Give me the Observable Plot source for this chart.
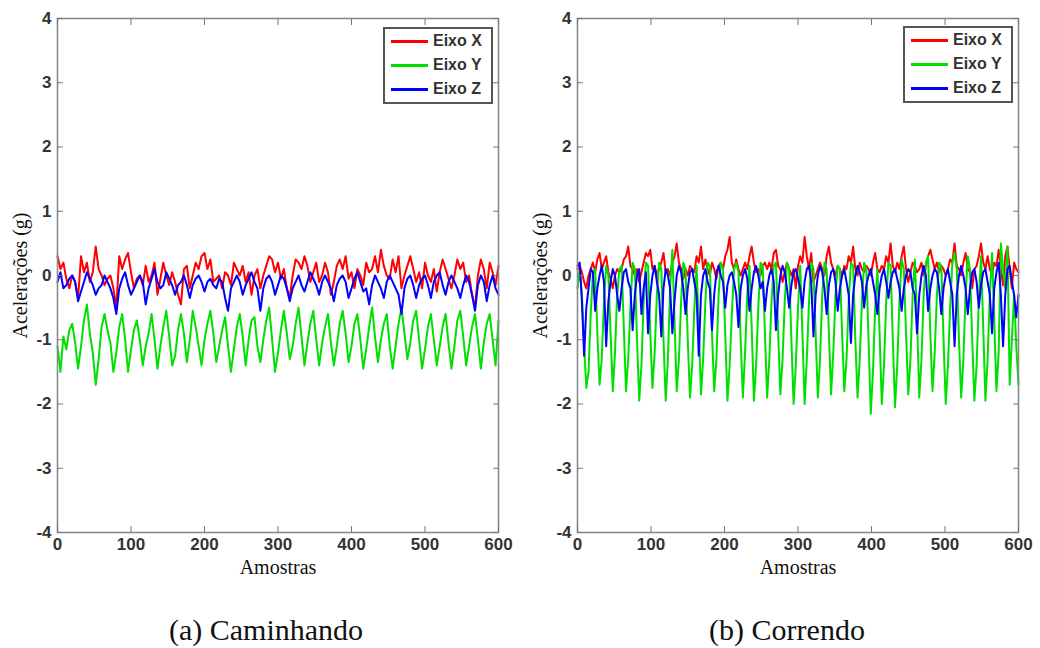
<!DOCTYPE html>
<html><head><meta charset="utf-8">
<script src="https://cdn.jsdelivr.net/npm/d3@7"></script>
<script src="https://cdn.jsdelivr.net/npm/@observablehq/plot@0.6"></script>
<style>
body{margin:0;background:#fff;}
#wrap{position:relative;width:1040px;height:648px;overflow:hidden;background:#fff;}
.panel{position:absolute;top:0;width:520px;height:590px;}
.legend{position:absolute;left:383px;width:110px;height:77px;border:2px solid #555;background:#fff;box-sizing:border-box;font:bold 16px "Liberation Sans",Arial,sans-serif;color:#333;}
.legend .row{position:absolute;left:0;height:20px;display:flex;align-items:center;white-space:nowrap;}
.legend .sw{width:37px;height:3px;margin-left:6px;margin-right:5px;}
.caption{position:absolute;top:613px;width:520px;text-align:center;font:30px "Liberation Serif","Times New Roman",serif;color:#111;}
</style></head>
<body><div id="wrap"></div>
<script>
// ---- data ----
const amostraTicks = [0, 100, 200, 300, 400, 500, 600];
const aceleracaoTicks = [-4, -3, -2, -1, 0, 1, 2, 3, 4];
const eixos = ["Eixo X", "Eixo Y", "Eixo Z"];
const cores = ["#ff0000", "#00e000", "#0000ff"];
const legendas = ["(a) Caminhando", "(b) Correndo"];

// (a) Caminhando: one value every 4 samples
const passoCaminhando = 4;
const caminhandoX = [
 0.3,0.1,0.2,-0.05,-0.2,0,-0.1,-0.35,0.3,0.05,
 0.2,-0.1,0.05,0.45,0.1,0,-0.15,-0.05,0,-0.2,
 -0.5,0.3,0.1,0.25,0.35,0.05,-0.2,-0.05,0,-0.15,
 0.15,-0.1,0,0.2,-0.3,-0.05,0.2,0,-0.15,0.05,
 -0.1,-0.3,-0.45,0.1,0.15,-0.2,0,0.2,0.1,0.3,
 0.35,0.1,0.25,-0.1,-0.05,0,-0.2,0.05,0,-0.15,
 0.2,0.1,0,0.15,-0.1,0.05,-0.3,0,0.1,-0.2,
 0,0.15,0.3,0.25,0.05,0.2,-0.05,0.1,-0.2,-0.35,
 0,0.25,0.2,0.1,0.3,0.15,-0.1,0.05,0.2,-0.1,
 0,0.2,0.05,-0.3,-0.1,0.15,0.25,0.1,0.3,-0.05,
 0.05,-0.2,0.1,0,-0.15,0.2,0.05,0.1,0.3,0.05,
 0.4,0.15,0,-0.05,0.25,0.05,0.3,-0.2,0,0.15,
 0.3,0.1,-0.1,0.05,-0.2,0.2,0,-0.1,0.1,-0.25,
 0.05,0.25,0.1,-0.05,-0.2,0,0.25,0.1,0.2,-0.1,
 0,-0.3,-0.5,0,0.25,0.1,-0.2,0.2,0.05,-0.15,
 0.15];
const caminhandoY = [
 -1.1,-1.5,-0.95,-1.15,-0.85,-0.75,-1.05,-1.45,-1.1,-0.7,
 -0.45,-0.9,-1.2,-1.7,-1.3,-0.8,-0.6,-0.85,-1.05,-1.5,
 -1.2,-0.8,-0.6,-1.0,-1.5,-1.15,-0.85,-0.7,-1.0,-1.4,
 -1.1,-0.9,-0.6,-1.0,-1.45,-1.1,-0.8,-0.55,-0.95,-1.4,
 -1.25,-0.85,-0.6,-0.9,-1.35,-1.0,-0.55,-0.8,-1.1,-1.4,
 -1.0,-0.75,-0.55,-0.9,-1.35,-1.1,-0.85,-0.65,-1.1,-1.5,
 -1.15,-0.8,-0.6,-0.95,-1.4,-1.0,-0.7,-0.65,-1.1,-1.35,
 -1.0,-0.7,-0.5,-1.0,-1.5,-1.2,-0.85,-0.55,-0.9,-1.3,
 -1.1,-0.75,-0.5,-0.95,-1.4,-1.05,-0.75,-0.55,-1.0,-1.4,
 -1.05,-0.8,-0.6,-1.05,-1.4,-1.1,-0.75,-0.55,-0.9,-1.35,
 -1.1,-0.75,-0.6,-1.0,-1.45,-1.15,-0.8,-0.5,-0.95,-1.35,
 -1.0,-0.75,-0.6,-1.1,-1.45,-1.1,-0.75,-0.5,-0.9,-1.3,
 -1.05,-0.7,-0.55,-1.0,-1.45,-1.15,-0.8,-0.6,-1.0,-1.4,
 -1.1,-0.8,-0.6,-1.05,-1.45,-1.1,-0.7,-0.55,-0.95,-1.4,
 -1.1,-0.8,-0.6,-1.0,-1.45,-1.05,-0.75,-0.6,-1.0,-1.4,
 -0.7];
const caminhandoZ = [
 -0.1,0.05,-0.2,-0.15,-0.05,0,-0.1,-0.4,-0.25,-0.1,
 0.05,-0.05,-0.15,-0.3,-0.2,-0.15,0,-0.1,-0.2,-0.35,
 -0.6,-0.2,-0.05,0.05,-0.15,-0.3,-0.2,-0.1,0,-0.1,
 -0.45,-0.2,-0.05,0.1,-0.1,-0.2,-0.15,0.05,-0.05,-0.15,
 -0.3,-0.15,-0.1,0,-0.15,-0.35,-0.15,-0.05,0,-0.1,
 -0.25,-0.1,-0.05,-0.15,-0.2,-0.05,-0.1,-0.35,-0.55,-0.2,
 -0.1,0,-0.1,-0.3,-0.15,-0.05,0.05,-0.1,-0.2,-0.55,
 -0.2,-0.05,0,-0.1,-0.3,-0.15,0,-0.05,-0.2,-0.4,
 -0.2,-0.1,0,-0.15,-0.25,-0.1,0.05,-0.05,-0.15,-0.3,
 -0.1,0,-0.1,-0.2,-0.4,-0.15,-0.05,0,-0.1,-0.35,
 -0.2,-0.05,0.05,-0.1,-0.25,-0.2,-0.45,-0.15,0,-0.1,
 -0.2,-0.35,-0.1,0,-0.1,-0.2,-0.3,-0.6,-0.2,-0.05,
 0,-0.15,-0.35,-0.15,-0.05,0,-0.15,-0.35,-0.1,0,
 0.05,-0.15,-0.3,-0.1,0,-0.1,-0.2,-0.35,-0.15,0,
 -0.1,-0.3,-0.55,-0.15,0,-0.1,-0.4,-0.15,0,-0.2,
 -0.3];

// (b) Correndo: one value every 3 samples
const passoCorrendo = 3;
const correndoX = [
 0.1,0.15,0.05,-0.1,-0.2,0,0.1,0.2,0.05,0.25,
 0.35,0.1,0.2,0.3,0.05,-0.05,-0.2,0,0.1,0.05,
 0.1,0.25,0.3,0.45,0.15,0.1,0,0.1,-0.1,0.05,
 0.2,0.35,0.3,0.4,0.1,0.15,0,0.1,0.2,0.35,
 0.05,0.1,0,0.2,0.3,0.5,0.2,0.1,-0.05,0.1,
 0,0.15,0.1,0.05,0.3,0.2,0.45,0.1,0.25,0.1,
 0,0.2,0.1,-0.05,0.15,0.2,0.1,0.3,0.4,0.6,
 0.2,0.1,0.25,0.1,0,0.1,0.2,0.1,0.3,0.45,
 0.2,0.05,0.1,0,0.15,0.2,0.1,0.2,0.1,0.35,
 0.4,0.15,0.1,-0.1,0.05,0.2,0.1,0,0.1,-0.2,
 0.15,0.3,0.2,0.6,0.3,0.1,0.35,-0.1,0,0.1,
 0.2,0.1,0,0.3,0.45,0.2,0.1,0,0.15,0.1,
 0,0.15,0.1,0.3,0.2,0.45,0.1,0,0.2,0.1,
 0.05,0.15,0.1,0,0.2,0.35,0.1,0.05,0.15,0.1,
 0.3,0.2,0.5,0.15,0.05,0.2,0.1,0.3,0.45,0.1,
 -0.1,0.05,0.2,0.15,0.05,0.1,0.2,0,0.15,0.3,
 0.4,0.25,0.1,0.2,0.05,0.15,0.1,0,0.1,0.25,
 0.2,0.5,0.15,0.1,0,0.2,0.35,0.1,0.05,-0.2,
 0.1,0.15,0.3,0.5,0.2,0.1,0.3,0.1,0,0.2,
 0.15,0.4,0.1,-0.15,0.3,0.45,0.1,-0.2,0.2,0.1,
 0.05];
const correndoY = [
 -0.2,0.1,-0.3,-1.1,-1.75,-1.5,-0.6,0.05,0.1,-0.9,
 -1.7,-1.3,-0.4,0.15,0,-0.9,-1.8,-1.2,-0.3,0.1,
 0.15,-0.8,-1.8,-1.3,-0.5,0.2,0.1,-1.0,-1.95,-1.4,
 -0.4,0.2,0.15,-0.9,-1.75,-1.2,-0.3,0.2,0.1,-1.0,
 -1.95,-1.3,-0.2,0.4,-0.7,-1.8,-1.3,-0.4,0.2,0.1,
 -1.0,-1.9,-1.4,-0.5,0.15,-0.8,-1.85,-1.3,-0.4,0.2,
 0.15,-0.9,-1.8,-1.3,-0.3,0.2,0.1,-0.9,-1.95,-1.4,
 -0.6,0.1,0.2,0.05,-1.0,-1.9,-1.2,-0.3,0.15,-0.8,
 -1.95,-1.4,-0.5,0.2,0.15,-0.9,-1.9,-1.3,-0.4,0.15,
 0.2,-0.9,-1.85,-1.3,-0.4,0.2,0.1,-1.0,-2.0,-1.4,
 -0.5,0.15,-0.9,-2.0,-1.3,-0.4,0.2,0.1,-0.9,-1.9,
 -1.3,-0.3,0.2,0.1,-0.9,-1.85,-1.2,-0.3,0.15,0.1,
 -0.9,-1.8,-1.3,-0.4,0.2,0.15,-1.0,-1.9,-1.3,-0.4,
 0.2,0.1,-1.0,-2.15,-1.5,-0.5,0.1,-0.9,-2.0,-1.4,
 -0.4,0.2,0.15,-1.0,-2.05,-1.4,-0.4,0.25,0.1,-0.9,
 -1.85,-1.3,-0.3,0.25,-0.7,-1.9,-1.3,-0.3,0.2,0.3,
 -0.9,-1.8,-1.2,-0.3,0.2,0.15,-1.0,-2.0,-1.4,-0.5,
 0.2,0.35,0.1,-1.0,-1.9,-1.3,-0.3,0.3,0.1,-1.0,
 -1.95,-1.4,-0.4,0.3,-0.8,-1.95,-1.3,-0.3,0.35,-0.7,
 -1.8,-1.2,0.5,0.1,-0.2,0.45,-1.7,-1.0,-0.3,-1.1,
 -1.7];
const correndoZ = [
 0.15,0.2,-0.4,-1.25,-0.5,-0.2,0.1,0.05,-0.55,-0.2,
 0,0.15,-0.1,-1.1,-0.4,-0.1,0.1,0,-0.3,-0.55,
 -0.2,0.05,0.1,-0.1,-0.2,-0.85,-0.3,0,0.1,-0.6,
 -0.2,0.05,-0.9,-0.3,0,0.15,-0.1,-0.3,-0.95,-0.2,
 0.1,0,-0.2,-0.9,-0.4,0,0.15,0.05,-0.2,-0.6,
 -0.2,0.05,0.1,-0.1,-0.3,-1.25,-0.3,0,0.1,-0.1,
 -0.2,-0.85,-0.3,0.05,0.15,0,-0.1,-0.5,-0.15,0,
 0.05,-0.1,-0.3,-0.8,-0.2,0,0.1,-0.05,-0.55,-0.2,
 0.05,0.15,0,-0.2,-0.1,-0.55,-0.2,0,0.1,-0.1,
 -0.85,-0.3,0,0.15,0.05,-0.2,-0.5,-0.15,0.05,0.1,
 -0.05,-0.2,-0.5,-0.1,0.1,0.15,-0.1,-0.95,-0.3,0,
 0.15,0.05,-0.2,-0.6,-0.15,0.05,0.1,-0.1,-0.55,-0.2,
 0,0.1,-0.1,-0.3,-1.05,-0.3,0,0.15,0.05,-0.1,
 -0.5,-0.15,0,0.1,-0.1,-0.3,-0.6,-0.2,0,0.1,
 -0.1,-0.35,-0.1,0.05,0.1,-0.05,-0.2,-0.55,-0.2,0,
 0.1,0.05,-0.2,-0.3,-0.9,-0.3,0,0.15,0,-0.55,
 -0.2,0,0.1,0.05,-0.2,-0.6,-0.2,0,0.1,-0.1,
 -0.3,-1.1,-0.3,0,0.15,0,-0.2,-0.6,-0.2,0.05,
 0.1,-0.1,-0.5,-0.15,0.05,0.1,-0.1,-0.3,-0.9,-0.2,
 0.05,0.2,-0.3,-1.1,-0.3,0.1,0.15,-0.1,-0.3,-0.65,
 -0.3];

// ---- build ----
function linhas(series, passo) {
  const rows = [];
  series.forEach((vals, k) => vals.forEach((v, i) => rows.push({eixo: eixos[k], amostra: i * passo, valor: v})));
  return rows;
}

const tickFont = {fontSize: 17, fontWeight: "bold", fontFamily: "'Liberation Sans', Arial, sans-serif", tickFormat: d => String(d)};
const serif = "'Liberation Serif', 'Times New Roman', serif";

function painel(rows) {
  return Plot.plot({
    width: 520, height: 590,
    marginTop: 18, marginBottom: 58, marginLeft: 57, marginRight: 22,
    style: {background: "white", overflow: "visible"},
    x: {domain: [0, 600]},
    y: {domain: [-4, 4]},
    color: {domain: eixos, range: cores},
    marks: [
      Plot.line(rows, {x: "amostra", y: "valor", z: "eixo", stroke: "eixo", strokeWidth: 2, strokeLinejoin: "round"}),
      Plot.frame({stroke: "#8a8a8a", strokeWidth: 1.6}),
      Plot.axisX({anchor: "bottom", ticks: amostraTicks, tickSize: -6, fill: "none", stroke: "#777", label: null}),
      Plot.axisX({anchor: "top", ticks: amostraTicks, tickSize: -6, fill: "none", stroke: "#777", label: null}),
      Plot.axisY({anchor: "left", ticks: aceleracaoTicks, tickSize: -6, fill: "none", stroke: "#777", label: null}),
      Plot.axisY({anchor: "right", ticks: aceleracaoTicks, tickSize: -6, fill: "none", stroke: "#777", label: null}),
      Plot.axisX({anchor: "bottom", ticks: amostraTicks, tickSize: 0, tickPadding: 5, stroke: "none", fill: "#333", label: null, ...tickFont}),
      Plot.axisY({anchor: "left", ticks: aceleracaoTicks, tickSize: 0, tickPadding: 6, stroke: "none", fill: "#333", label: null, ...tickFont}),
      Plot.text(["Amostras"], {text: d => d, frameAnchor: "bottom", textAnchor: "middle", lineAnchor: "middle", dy: 35, fontSize: 20, fontFamily: serif, fill: "#111"}),
      Plot.text(["Acelerações (g)"], {text: d => d, frameAnchor: "left", textAnchor: "middle", lineAnchor: "middle", dx: -37, rotate: -90, fontSize: 20, fontFamily: serif, fill: "#111"})
    ]
  });
}

const wrap = document.getElementById("wrap");
const paineis = [
  linhas([caminhandoX, caminhandoY, caminhandoZ], passoCaminhando),
  linhas([correndoX, correndoY, correndoZ], passoCorrendo)
];
paineis.forEach((rows, p) => {
  const div = document.createElement("div");
  div.className = "panel";
  div.style.left = (p * 520) + "px";
  div.appendChild(painel(rows));
  const leg = document.createElement("div");
  leg.className = "legend";
  leg.style.top = (p === 0 ? 27 : 26) + "px";
  eixos.forEach((e, k) => {
    const row = document.createElement("div");
    row.className = "row";
    row.style.top = (2 + k * 24) + "px";
    const sw = document.createElement("span");
    sw.className = "sw";
    sw.style.background = cores[k];
    const t = document.createElement("span");
    t.textContent = e;
    row.appendChild(sw); row.appendChild(t);
    leg.appendChild(row);
  });
  div.appendChild(leg);
  wrap.appendChild(div);
  const cap = document.createElement("div");
  cap.className = "caption";
  cap.style.left = (p * 520 + (p === 0 ? 6 : 7)) + "px";
  cap.textContent = legendas[p];
  wrap.appendChild(cap);
});
</script>
</body></html>
